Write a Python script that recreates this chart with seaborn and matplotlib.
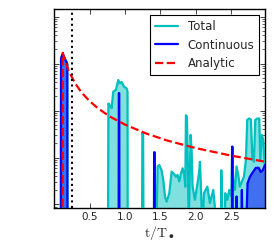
import numpy as np
import matplotlib
matplotlib.use("Agg")
import matplotlib.pyplot as plt
import seaborn as sns
from matplotlib.ticker import FixedLocator, NullFormatter

OFF = -4.3  # no accretion in this step: drawn down below the axis

# (t / T_*, log10 rate)
total_pts = [
    (0.0, OFF), (0.094, OFF), (0.096, -0.89), (0.118, -0.80), (0.142, -0.87),
    (0.160, -0.93), (0.175, -0.97), (0.184, -1.02), (0.186, OFF),
    (0.760, OFF), (0.765, -1.85), (0.790, -1.90), (0.811, -1.95), (0.833, -1.60),
    (0.871, -1.56), (0.904, -1.35), (0.928, -1.42), (0.952, -1.39), (0.984, -1.49),
    (1.023, -1.53), (1.035, -1.60), (1.037, OFF),
    (1.240, OFF), (1.245, -2.47), (1.255, -2.52), (1.260, OFF),
    (1.409, OFF), (1.411, -2.89), (1.416, -2.89), (1.418, OFF),
    (1.446, OFF), (1.460, -3.19), (1.483, -3.16), (1.516, -3.27), (1.540, -3.48),
    (1.564, -3.83), (1.587, -3.94), (1.625, -3.76), (1.658, -3.30), (1.691, -3.35),
    (1.719, -3.41), (1.742, -3.37), (1.766, -3.51), (1.790, -3.34), (1.813, -3.23),
    (1.837, -3.37), (1.851, -3.62), (1.860, -2.10), (1.874, -2.13), (1.884, -2.91),
    (1.898, OFF), (1.907, -3.90), (1.926, -2.52), (1.940, -2.84), (1.954, -3.62),
    (1.987, -3.90), (2.020, -3.58), (2.044, -3.34), (2.058, -3.09), (2.072, -3.62),
    (2.086, OFF), (2.100, OFF), (2.115, -3.76), (2.162, -3.62), (2.199, -3.97),
    (2.246, -3.69), (2.284, OFF),
    (2.355, OFF), (2.359, -3.27), (2.365, -3.50), (2.373, OFF),
    (2.410, OFF), (2.415, -3.76), (2.444, -3.90), (2.472, -3.69), (2.500, -3.83),
    (2.514, -2.77), (2.528, -3.48), (2.552, -3.69), (2.575, -3.19), (2.599, -3.37),
    (2.622, -3.62), (2.651, -3.51), (2.679, -3.41), (2.707, -3.05), (2.726, -2.20),
    (2.754, -2.17), (2.778, -2.19), (2.797, -2.98), (2.820, -3.09), (2.839, -2.20),
    (2.867, -2.17), (2.896, -2.17), (2.910, -3.05), (2.934, -2.52), (2.952, -2.63),
    (2.976, -3.19),
]

continuous_pts = [
    (0.0, OFF), (0.094, OFF), (0.096, -0.89), (0.118, -0.80), (0.142, -0.87),
    (0.160, -0.93), (0.175, -0.97), (0.184, -1.02), (0.186, OFF),
    (0.910, OFF), (0.912, -1.63), (0.918, -1.63), (0.920, OFF),
    (1.409, OFF), (1.411, -2.89), (1.416, -2.89), (1.418, OFF),
    (2.510, OFF), (2.512, -2.77), (2.517, -2.77), (2.519, OFF),
    (2.572, OFF), (2.575, -3.83), (2.580, OFF),
    (2.645, OFF), (2.650, -3.69), (2.655, OFF),
    (2.715, OFF), (2.730, -3.55), (2.764, -3.41), (2.806, -3.31), (2.848, -3.22),
    (2.888, -3.22), (2.917, -3.31), (2.945, -3.27), (2.976, -3.16),
]

analytic_pts = [
    (0.118, OFF), (0.120, -0.77), (0.16, -0.97), (0.20, -1.135), (0.245, -1.28),
    (0.30, -1.43), (0.35, -1.54), (0.40, -1.64), (0.50, -1.80), (0.60, -1.93),
    (0.70, -2.04), (0.80, -2.14), (1.0, -2.30), (1.3, -2.49), (1.6, -2.64),
    (2.0, -2.80), (2.5, -2.96), (2.98, -3.09),
]

xticks = [0.5, 1.0, 1.5, 2.0, 2.5]
t_mark = 0.25
ylim_log = (-4.08, 0.16)

t_tot, y_tot = np.array(total_pts).T
t_con, y_con = np.array(continuous_pts).T
t_ana, y_ana = np.array(analytic_pts).T

sns.set_style("ticks")
plt.rcParams.update({
    "axes.edgecolor": "black",
    "axes.linewidth": 1.0,
    "xtick.direction": "in",
    "ytick.direction": "in",
    "mathtext.fontset": "cm",
})

fig = plt.figure(figsize=(2.74, 2.45), dpi=100)
ax = fig.add_axes([0.198, 0.150, 0.770, 0.813])

# shaded areas (cyan at half alpha, blue at half alpha on top of it)
ax.fill_between(t_tot, OFF, y_tot, color="#80dfdf", lw=0, zorder=1)
ax.fill_between(t_con, OFF, y_con, color="#4070ef", lw=0, zorder=2)

sns.lineplot(x=t_tot, y=y_tot, ax=ax, color="c", lw=1.6, label="Total",
             estimator=None, sort=False, zorder=3)
sns.lineplot(x=t_con, y=y_con, ax=ax, color="b", lw=1.6, label="Continuous",
             estimator=None, sort=False, zorder=3)
sns.lineplot(x=t_ana, y=y_ana, ax=ax, color="r", lw=1.6, label="Analytic",
             estimator=None, sort=False, linestyle="--", zorder=4)
ax.axvline(t_mark, color="k", ls=":", lw=1.5, zorder=4)

# log-axis ticks (values are log10 of the rate)
decades = np.arange(-5, 2)
ax.yaxis.set_major_locator(FixedLocator(decades))
ax.yaxis.set_minor_locator(FixedLocator(
    [d + np.log10(k) for d in decades for k in range(2, 10)]))
ax.yaxis.set_major_formatter(NullFormatter())
ax.yaxis.set_minor_formatter(NullFormatter())

ax.set_ylim(*ylim_log)
ax.set_xlim(0, 2.98)
ax.set_xticks(xticks)
ax.set_xticklabels([f"{x:.1f}" for x in xticks], fontsize=7.5)
ax.tick_params(which="both", direction="in", top=True, right=True)
ax.tick_params(which="major", length=3.5, width=0.6, pad=3)
ax.tick_params(which="minor", length=2, width=0.5)
ax.set_xlabel(r"$\mathrm{t/T_\bullet}$", fontsize=10, labelpad=1)
ax.set_ylabel("")

leg = ax.legend(loc="upper right", fontsize=8.5, fancybox=False, framealpha=1,
                edgecolor="black", borderaxespad=0.5, handlelength=2.0)
leg.get_frame().set_linewidth(0.8)

fig.savefig("out.png", dpi=100)
